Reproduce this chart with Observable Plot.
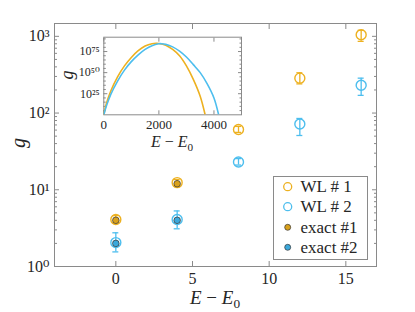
<!DOCTYPE html>
<html><head><meta charset="utf-8">
<script src="https://cdn.jsdelivr.net/npm/d3@7"></script>
<script src="https://cdn.jsdelivr.net/npm/@observablehq/plot@0.6"></script>
<style>
html,body{margin:0;padding:0;background:#fff;}
#wrap{position:relative;width:415px;height:312px;overflow:hidden;background:#fff;}
#wrap svg{position:absolute;left:0;top:0;}
</style></head><body><div id="wrap"></div>
<script>
// ---- data ----
const energies = [0, 4, 8, 12, 16];
const wl1   = [4.1, 12.4, 61, 285, 1050];
const wl1Lo = [3.7, 11.3, 56, 240, 860];
const wl1Hi = [4.6, 13.6, 67, 335, 1200];
const wl2   = [2.05, 4.1, 23, 72, 230];
const wl2Lo = [1.55, 3.1, 21, 51, 170];
const wl2Hi = [2.75, 5.3, 25.5, 85, 285];
const exactE = [0, 4];
const exact1 = [4, 12];
const exact2 = [2, 4];
// inset: E - E0 and log10 g
const insetE1   = [0, 100, 250, 500, 750, 1000, 1250, 1500, 1750, 1900, 2000, 2250, 2500, 2750, 3000, 3250, 3500, 3680];
const insetLog1 = [0, 14, 28, 45, 58, 68, 76, 81.5, 84.3, 84.8, 84.6, 82.5, 77.5, 70, 58, 42, 22, 0];
const insetE2   = [0, 100, 250, 500, 750, 1000, 1250, 1500, 1750, 2000, 2100, 2250, 2500, 2750, 3000, 3250, 3500, 3750, 4000, 4170];
const insetLog2 = [0, 11, 24, 40, 53, 63, 71, 77.5, 82, 84.2, 84.3, 83.5, 80.5, 75.5, 68.5, 59.5, 50, 37, 20, 0];
const xTicks = [0, 5, 10, 15];
const yMajor = [1, 10, 100, 1000];
const yMinor = [2,3,4,5,6,7,8,9,20,30,40,50,60,70,80,90,200,300,400,500,600,700,800,900];
const insetXTicks = [0, 2000, 4000];
const insetYMajor = [25, 50, 75];
const insetYMinor = [5,10,15,20,30,35,40,45,55,60,65,70,80,85,90];
const seriesNames = ["WL # 1", "WL # 2", "exact #1", "exact #2"];

const orange = "#EDB120", blue = "#4DBEEE";
const orangeFill = "#d9a11c", blueFill = "#3ba8db";
const gray = "#8a8a8a", ink = "#262626";
const FONT = "'Liberation Serif', 'DejaVu Serif', serif";
const SUP = "⁰¹²³⁴⁵⁶⁷⁸⁹";
const pow10 = n => "10" + String(n).split("").map(c => SUP[+c]).join("");

function boxTicks(xs, ys, size, extra = {}) {
  const o = {fill: "none", stroke: gray, label: null, tickSize: size, ...extra};
  return [
    Plot.axisX(xs, {...o, anchor: "bottom", dy: -size}),
    Plot.axisX(xs, {...o, anchor: "top", dy: size}),
    Plot.axisY(ys, {...o, anchor: "left", dx: size}),
    Plot.axisY(ys, {...o, anchor: "right", dx: -size})
  ];
}
function yTicksOnly(ys, size) {
  const o = {fill: "none", stroke: gray, label: null, tickSize: size};
  return [
    Plot.axisY(ys, {...o, anchor: "left", dx: size}),
    Plot.axisY(ys, {...o, anchor: "right", dx: -size})
  ];
}

// ---- main chart ----
const main = Plot.plot({
  width: 415, height: 312,
  marginLeft: 54, marginRight: 39, marginTop: 23, marginBottom: 46,
  style: {fontFamily: FONT, fontSize: "15px", color: ink, background: "transparent", overflow: "visible"},
  x: {domain: [-4, 17]},
  y: {type: "log", domain: [1, 1470]},
  marks: [
    Plot.frame({stroke: gray}),
    ...boxTicks(xTicks, yMajor, 5),
    ...yTicksOnly(yMinor, 3),
    Plot.axisX(xTicks, {anchor: "bottom", tickSize: 0, tickPadding: 6, label: null, fill: ink, fontSize: 16}),
    Plot.axisY(yMajor, {anchor: "left", tickSize: 0, tickPadding: 5, label: null, fill: ink, fontSize: 16, tickFormat: d => pow10(Math.round(Math.log10(d)))}),
    // WL #1
    Plot.ruleX(wl1, {x: energies, y1: wl1Lo, y2: wl1Hi, stroke: orange, strokeWidth: 1.3}),
    Plot.ruleY(wl1Lo, {y: wl1Lo, x1: energies, x2: energies, insetLeft: -3, insetRight: -3, stroke: orange, strokeWidth: 1.3}),
    Plot.ruleY(wl1Hi, {y: wl1Hi, x1: energies, x2: energies, insetLeft: -3, insetRight: -3, stroke: orange, strokeWidth: 1.3}),
    Plot.dot(wl1, {x: energies, y: wl1, r: 5, stroke: orange, strokeWidth: 1.4, fill: "none"}),
    // WL #2
    Plot.ruleX(wl2, {x: energies, y1: wl2Lo, y2: wl2Hi, stroke: blue, strokeWidth: 1.3}),
    Plot.ruleY(wl2Lo, {y: wl2Lo, x1: energies, x2: energies, insetLeft: -3, insetRight: -3, stroke: blue, strokeWidth: 1.3}),
    Plot.ruleY(wl2Hi, {y: wl2Hi, x1: energies, x2: energies, insetLeft: -3, insetRight: -3, stroke: blue, strokeWidth: 1.3}),
    Plot.dot(wl2, {x: energies, y: wl2, r: 5, stroke: blue, strokeWidth: 1.4, fill: "none"}),
    // exact
    Plot.dot(exact1, {x: exactE, y: exact1, r: 3.3, fill: orangeFill, stroke: "#333", strokeWidth: 0.7}),
    Plot.dot(exact2, {x: exactE, y: exact2, r: 3.3, fill: blueFill, stroke: "#333", strokeWidth: 0.7})
  ]
});

// ---- inset ----
const inset = Plot.plot({
  width: 190, height: 125,
  marginLeft: 43.3, marginRight: 9, marginTop: 6.7, marginBottom: 40.7,
  style: {fontFamily: FONT, fontSize: "12px", color: ink, background: "transparent", overflow: "visible"},
  x: {domain: [0, 5000]},
  y: {domain: [0, 92]},
  marks: [
    Plot.frame({fill: "white", stroke: gray}),
    ...boxTicks(insetXTicks, insetYMajor, 4),
    ...yTicksOnly(insetYMinor, 2.5),
    Plot.axisX(insetXTicks, {anchor: "bottom", tickSize: 0, tickPadding: 5, label: null, fill: ink, fontSize: 13, tickFormat: d => String(d)}),
    Plot.axisY(insetYMajor, {anchor: "left", tickSize: 0, tickPadding: 4, label: null, fill: ink, fontSize: 12, tickFormat: d => pow10(d)}),
    Plot.line(insetLog1, {x: insetE1, y: insetLog1, stroke: orange, strokeWidth: 1.6, curve: "catmull-rom", clip: true}),
    Plot.line(insetLog2, {x: insetE2, y: insetLog2, stroke: blue, strokeWidth: 1.6, curve: "catmull-rom", clip: true})
  ]
});

const wrap = document.getElementById("wrap");
wrap.appendChild(main);
inset.style.left = "60px";
inset.style.top = "30px";
wrap.appendChild(inset);

// math-style labels
function eLabel(svg, x, y, size) {
  const t = d3.select(svg).append("text").attr("x", x).attr("y", y)
    .attr("text-anchor", "middle").attr("font-size", size).attr("fill", ink)
    .attr("font-family", FONT);
  t.append("tspan").attr("font-style", "italic").text("E");
  t.append("tspan").text(" − ");
  t.append("tspan").attr("font-style", "italic").text("E");
  t.append("tspan").attr("font-size", size * 0.7).attr("dy", size * 0.22).text("0");
}
function gLabel(svg, x, y, size) {
  d3.select(svg).append("text")
    .attr("transform", `translate(${x},${y}) rotate(-90)`)
    .attr("text-anchor", "middle").attr("dominant-baseline", "central")
    .attr("font-size", size).attr("font-style", "italic").attr("fill", ink)
    .attr("font-family", FONT).text("g");
}
eLabel(main, 215, 304, 19);
gLabel(main, 18, 143, 20);
eLabel(inset, 112, 117, 16);
gLabel(inset, 7, 45, 18);

// legend
const lg = d3.select(main).append("g").attr("font-family", FONT);
lg.append("rect").attr("x", 273.5).attr("y", 176.5).attr("width", 94).attr("height", 83)
  .attr("fill", "white").attr("stroke", gray);
const ly = [186.7, 206.7, 227.3, 247.3];
const lStyle = [
  {fill: "none", stroke: orange, r: 4, sw: 1.3},
  {fill: "none", stroke: blue, r: 4, sw: 1.3},
  {fill: orangeFill, stroke: "#333", r: 3, sw: 0.7},
  {fill: blueFill, stroke: "#333", r: 3, sw: 0.7}
];
seriesNames.forEach((name, i) => {
  lg.append("circle").attr("cx", 287.7).attr("cy", ly[i]).attr("r", lStyle[i].r)
    .attr("fill", lStyle[i].fill).attr("stroke", lStyle[i].stroke).attr("stroke-width", lStyle[i].sw);
  lg.append("text").attr("x", 300.5).attr("y", ly[i]).attr("dominant-baseline", "central")
    .attr("text-anchor", "start").attr("font-size", 17).attr("fill", ink).text(name);
});
</script></body></html>
